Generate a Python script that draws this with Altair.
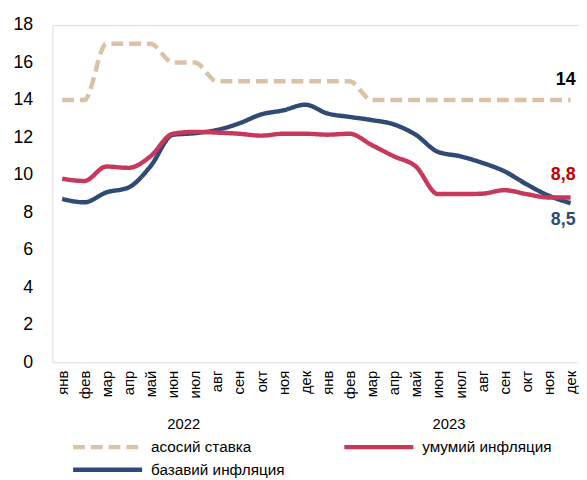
import altair as alt
import pandas as pd

months = ["янв", "фев", "мар", "апр", "май", "июн", "июл", "авг", "сен", "окт", "ноя", "дек"] * 2
years = ["2022", "2023"]

key_rate = [14, 14, 17, 17, 17, 16, 16, 15, 15, 15, 15, 15,
            15, 15, 14, 14, 14, 14, 14, 14, 14, 14, 14, 14]
headline = [9.8, 9.68, 10.45, 10.38, 11.0, 12.2, 12.3, 12.26, 12.2, 12.1, 12.2, 12.2,
            12.15, 12.2, 11.6, 11.0, 10.45, 8.98, 8.98, 9.0, 9.19, 8.98, 8.8, 8.8]
core = [8.72, 8.54, 9.07, 9.33, 10.47, 12.14, 12.23, 12.4, 12.75, 13.23, 13.45, 13.75,
        13.28, 13.1, 12.93, 12.7, 12.14, 11.23, 11.0, 10.65, 10.2, 9.51, 8.9, 8.5]

series_names = ["асосий ставка", "базавий инфляция", "умумий инфляция"]
series_colors = ["#D8C3A5", "#2F4B75", "#C8385A"]
series_dash = [[12, 6], [1, 0], [1, 0]]
series_values = [key_rate, core, headline]
end_labels = ["14", "8,5", "8,8"]
end_label_colors = ["#000000", "#2F4B75", "#C00000"]
end_label_dy = [-20, 17, -23]

rows = []
for name, vals in zip(series_names, series_values):
    for i, v in enumerate(vals):
        rows.append({"i": i, "month": months[i], "series": name, "value": v})
df = pd.DataFrame(rows)

year_df = pd.DataFrame({"i": [5.5, 17.5], "year": years})

label_expr = "[" + ",".join("'%s'" % m for m in months) + "][datum.value]"

xscale = alt.Scale(domain=[-0.444, 23.38], nice=False, zero=False)
yscale = alt.Scale(domain=[0, 18], nice=False)

x_axis = alt.Axis(values=list(range(24)), labelExpr=label_expr, labelAngle=270,
                  labelAlign="right", labelBaseline="middle", labelFontSize=15,
                  labelColor="#000000", labelPadding=8, ticks=False, domain=False,
                  grid=False, labelFont="Liberation Sans", labelOverlap=False)
y_axis = alt.Axis(values=list(range(0, 19, 2)), labelFontSize=18, labelColor="#000000",
                  labelPadding=20, ticks=False, domain=False, grid=False,
                  labelFont="Liberation Sans", labelOverlap=False)

legend_def = alt.Legend(title=None, orient="none", legendX=42, legendY=414,
                        columns=2, columnPadding=51, rowPadding=0,
                        symbolType="M-3,0H3", symbolSize=544, symbolStrokeWidth=4.5,
                        labelFontSize=15.5, labelFont="Liberation Sans",
                        labelColor="#000000", labelOffset=30, labelLimit=300)

lines = alt.Chart(df).mark_line(interpolate="monotone", strokeWidth=4.5).encode(
    x=alt.X("i:Q", scale=xscale, title=None, axis=x_axis),
    y=alt.Y("value:Q", scale=yscale, title=None, axis=y_axis),
    color=alt.Color("series:N", scale=alt.Scale(domain=series_names, range=series_colors),
                    sort=series_names, legend=legend_def),
    strokeDash=alt.StrokeDash("series:N",
                              scale=alt.Scale(domain=series_names, range=series_dash),
                              sort=series_names, legend=legend_def),
    order=alt.Order("i:Q"),
)

layers = [lines]
for vals, lab, col, dy in zip(series_values, end_labels, end_label_colors, end_label_dy):
    d = pd.DataFrame({"i": [len(vals) - 1], "value": [vals[-1]], "label": [lab]})
    layers.append(
        alt.Chart(d).mark_text(fontSize=18, fontWeight="bold", align="right", baseline="middle",
                               font="Liberation Sans", color=col, dy=dy, dx=5).encode(
            x=alt.X("i:Q", scale=xscale, title=None, axis=x_axis),
            y=alt.Y("value:Q", scale=yscale, title=None, axis=y_axis),
            text="label:N",
        )
    )

year_text = alt.Chart(year_df).mark_text(fontSize=15, font="Liberation Sans", color="#000000",
                                         baseline="middle").encode(
    x=alt.X("i:Q", scale=xscale, title=None, axis=x_axis),
    y=alt.value(405),
    text="year:N",
)
layers.append(year_text)

chart = alt.layer(*layers).properties(
    width=534, height=342,
    autosize=alt.AutoSizeParams(type="none"),
    padding={"left": 45, "top": 14, "right": 0, "bottom": 116},
).configure_view(stroke="#D9D9D9", strokeWidth=1.5).configure(background="white")

chart.save("out.html", embed_options={"renderer": "svg", "actions": False})
